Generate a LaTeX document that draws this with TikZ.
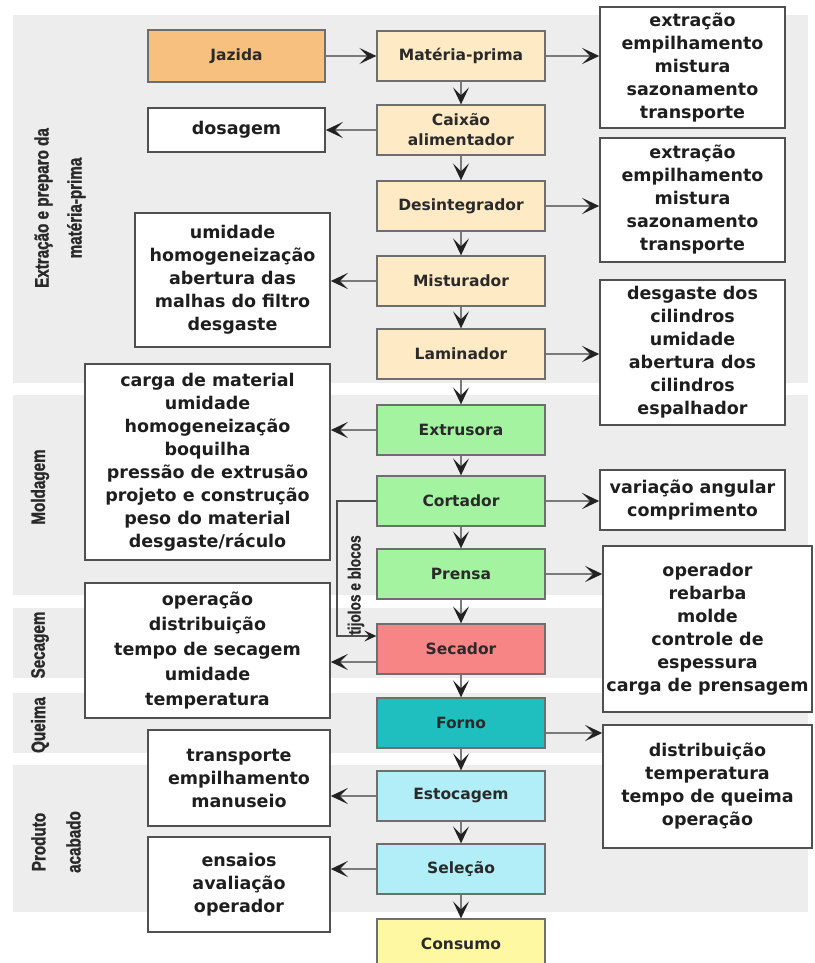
\documentclass[tikz,border=0pt]{standalone}
\usepackage{fontspec}
\setmainfont{DejaVu Sans}
\newfontfamily\labfont[FakeStretch=0.78,FakeBold=1.2]{Liberation Sans Bold}
\usetikzlibrary{arrows.meta}
\definecolor{bandgray}{HTML}{EDEDED}
\definecolor{jaz}{HTML}{F8C07E}
\definecolor{peach}{HTML}{FFEAC6}
\definecolor{grn}{HTML}{A4F3A0}
\definecolor{salmon}{HTML}{F78585}
\definecolor{tealc}{HTML}{1FBFBF}
\definecolor{cyanl}{HTML}{B2EEF8}
\definecolor{yel}{HTML}{FFF8A3}
\definecolor{linec}{HTML}{7A7A7A}
\definecolor{tipc}{HTML}{222222}
\definecolor{txt}{HTML}{2A2A2A}
\definecolor{stxt}{HTML}{1E1E1E}
\definecolor{boxb}{HTML}{6E6E6E}
\definecolor{sideb}{HTML}{505050}
\tikzset{
  mbox/.style={draw=boxb, line width=1.3pt, minimum width=168pt, minimum height=50pt,
    inner sep=1pt, font=\fontsize{15.5}{20}\selectfont\bfseries, text=txt, align=center},
  sbox/.style={draw=sideb, line width=1.6pt, fill=white, inner sep=0pt,
    font=\fontsize{17.5}{23}\selectfont\bfseries, text=stxt, align=center},
  lab/.style={rotate=90, font=\labfont\fontsize{19.5}{33}\selectfont, text=txt, align=center, inner sep=0pt},
  arr/.style={draw=linec, line width=2.3pt, -{Stealth[length=17pt,width=16pt,inset=8pt,color=tipc]}},
  tline/.style={draw=sideb, line width=1.3pt, -{Stealth[length=12pt,width=11pt,inset=5pt,color=tipc]}}
}
\begin{document}
\begin{tikzpicture}[x=1pt,y=-1pt]
\useasboundingbox (0,0) rectangle (814,963);
% bands
\fill[bandgray] (13,15) rectangle (808,383);
\fill[bandgray] (13,395) rectangle (808,595);
\fill[bandgray] (13,608) rectangle (808,678);
\fill[bandgray] (13,693) rectangle (808,753);
\fill[bandgray] (13,765) rectangle (808,912);
% labels
\node[lab] (lb1) at (60,208) {Extração e preparo da\\matéria-prima};
\node[lab] (lb2) at (40,487) {Moldagem};
\node[lab] (lb3) at (40,645) {Secagem};
\node[lab] (lb4) at (40,725) {Queima};
\node[lab, font=\labfont\fontsize{19.5}{35}\selectfont] (lb5) at (56,842) {Produto\\acabado};
% main column
\node[mbox, fill=jaz, minimum width=177pt, minimum height=52pt] (jz) at (236.5,56) {Jazida};
\node[mbox, fill=peach] (mp) at (461,56) {Matéria-prima};
\node[mbox, fill=peach] (ca) at (461,130) {Caixão\\alimentador};
\node[mbox, fill=peach] (de) at (461,206) {Desintegrador};
\node[mbox, fill=peach] (mi) at (461,281) {Misturador};
\node[mbox, fill=peach] (la) at (461,354) {Laminador};
\node[mbox, fill=grn] (ex) at (461,430) {Extrusora};
\node[mbox, fill=grn] (co) at (461,501) {Cortador};
\node[mbox, fill=grn] (pr) at (461,574) {Prensa};
\node[mbox, fill=salmon] (se) at (461,649) {Secador};
\node[mbox, fill=tealc] (fo) at (461,723) {Forno};
\node[mbox, fill=cyanl] (es) at (461,796) {Estocagem};
\node[mbox, fill=cyanl] (sl) at (461,869) {Seleção};
\node[mbox, fill=yel] (cs) at (461,944) {Consumo};
% right boxes
\node[sbox, minimum width=185pt, minimum height=121pt] (r1) at (692.5,67.5) {extração\\empilhamento\\mistura\\sazonamento\\transporte};
\node[sbox, minimum width=185pt, minimum height=124pt] (r2) at (692.5,200) {extração\\empilhamento\\mistura\\sazonamento\\transporte};
\node[sbox, minimum width=185pt, minimum height=145pt] (r3) at (692.5,352.5) {desgaste dos\\cilindros\\umidade\\abertura dos\\cilindros\\espalhador};
\node[sbox, minimum width=185pt, minimum height=60pt] (r4) at (692.5,500) {variação angular\\comprimento};
\node[sbox, minimum width=209pt, minimum height=166pt] (r5) at (707.5,629) {operador\\rebarba\\molde\\controle de\\espessura\\carga de prensagem};
\node[sbox, minimum width=209pt, minimum height=123pt] (r6) at (707.5,786.5) {distribuição\\temperatura\\tempo de queima\\operação};
% left boxes
\node[sbox, minimum width=177pt, minimum height=44pt] (l1) at (236.5,130) {dosagem};
\node[sbox, minimum width=195pt, minimum height=134pt] (l2) at (232.5,280) {umidade\\homogeneização\\abertura das\\malhas do filtro\\desgaste};
\node[sbox, minimum width=245pt, minimum height=196pt] (l3) at (207.5,462) {carga de material\\umidade\\homogeneização\\boquilha\\pressão de extrusão\\projeto e construção\\peso do material\\desgaste/ráculo};
\node[sbox, minimum width=245pt, minimum height=135pt, font=\fontsize{17.5}{25}\selectfont\bfseries] (l4) at (207.5,650.5) {operação\\distribuição\\tempo de secagem\\umidade\\temperatura};
\node[sbox, minimum width=182pt, minimum height=96pt] (l5) at (239,778) {transporte\\empilhamento\\manuseio};
\node[sbox, minimum width=182pt, minimum height=95pt] (l6) at (239,884.5) {ensaios\\avaliação\\operador};
% horizontal arrows
\draw[arr] (jz.east) -- (mp.west);
\draw[arr] (mp.east) -- (mp.east -| r1.west);
\draw[arr] (ca.west) -- (ca.west -| l1.east);
\draw[arr] (de.east) -- (de.east -| r2.west);
\draw[arr] (mi.west) -- (mi.west -| l2.east);
\draw[arr] (la.east) -- (la.east -| r3.west);
\draw[arr] (ex.west) -- (ex.west -| l3.east);
\draw[arr] (co.east) -- (co.east -| r4.west);
\draw[arr] (pr.east) -- (pr.east -| r5.west);
\draw[arr] ([yshift=-13pt]se.west) -- ([yshift=-13pt]se.west -| l4.east);
\draw[arr] ([yshift=-10pt]fo.east) -- ([yshift=-10pt]fo.east -| r6.west);
\draw[arr] (es.west) -- (es.west -| l5.east);
\draw[arr] (sl.west) -- (sl.west -| l6.east);
% vertical arrows
\foreach \a/\b in {mp/ca,ca/de,de/mi,mi/la,la/ex,ex/co,co/pr,pr/se,se/fo,fo/es,es/sl,sl/cs}
  \draw[arr] (\a.south) -- (\b.north);
% tijolos e blocos bypass
\coordinate (tb) at (337,636);
\draw[tline] (co.west) -| (tb) -- (tb -| se.west);
\node[lab, font=\labfont\fontsize{17.5}{20}\selectfont] (tj) at (356,585) {tijolos e blocos};
\end{tikzpicture}
\end{document}
